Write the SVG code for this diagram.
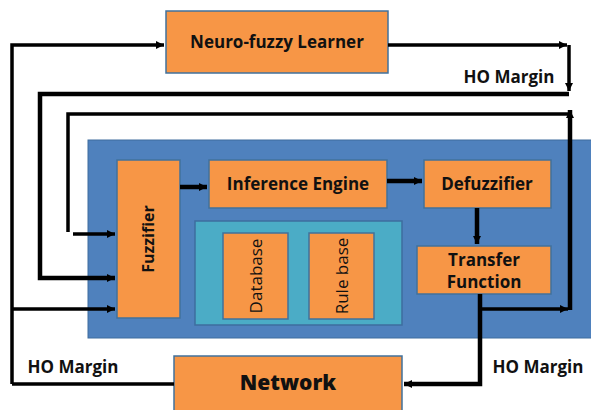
<svg xmlns="http://www.w3.org/2000/svg" width="591" height="410" viewBox="0 0 591 410">
<defs>
<style>
.box{fill:#F79646;stroke:#41719C;stroke-width:1.5}
.t{font-family:"Open Sans","Liberation Sans",sans-serif;font-weight:bold;font-size:17px;fill:#111;text-anchor:middle}
.tn{font-family:"Open Sans","Liberation Sans",sans-serif;font-weight:normal;font-size:17px;fill:#111;text-anchor:middle}
.c{fill:none;stroke:#000;stroke-width:3.5}
.ct{fill:none;stroke:#000;stroke-width:4.5}
</style>
<marker id="ah" markerUnits="userSpaceOnUse" markerWidth="10" markerHeight="10" refX="8" refY="5" orient="auto">
<path d="M0,1 L8,5 L0,9 Z" fill="#000"/>
</marker>
</defs>
<rect id="outer" x="88" y="140" width="510" height="198" fill="#4F81BD" stroke="#3E6D9E" stroke-width="1"/>
<g id="learner"><rect class="box" x="166" y="11" width="222" height="62"/><text class="t" x="277" y="48">Neuro-fuzzy  Learner</text></g>
<g id="fuzzifier"><rect class="box" x="117" y="160" width="63" height="158"/><text class="t" x="0" y="0" transform="translate(154,239) rotate(-90)" style="font-size:16px">Fuzzifier</text></g>
<g id="inference"><rect class="box" x="209" y="160" width="178" height="48"/><text class="t" x="298" y="190">Inference Engine</text></g>
<g id="defuzzifier"><rect class="box" x="424" y="160" width="127" height="48"/><text class="t" x="487" y="190">Defuzzifier</text></g>
<g id="kb"><rect x="195" y="221" width="207" height="104" fill="#4BACC6" stroke="#3E6D9E" stroke-width="1.5"/></g>
<g id="database"><rect class="box" x="223" y="233" width="65" height="86"/><text class="tn" transform="translate(262,276) rotate(-90)">Database</text></g>
<g id="rulebase"><rect class="box" x="309" y="233" width="65" height="86"/><text class="tn" transform="translate(348,276) rotate(-90)">Rule base</text></g>
<g id="transfer"><rect class="box" x="417" y="246" width="134" height="48"/><text class="t" x="484" y="266">Transfer</text><text class="t" x="484" y="288">Function</text></g>
<g id="network"><rect class="box" x="174" y="356" width="228" height="60"/><text class="t" x="288" y="390" style="font-size:21px;font-weight:800">Network</text></g>
<g id="labels">
<text class="t" x="509" y="83">HO Margin</text>
<text class="t" x="73" y="373">HO Margin</text>
<text class="t" x="538" y="373">HO Margin</text>
</g>
<g id="connectors">
<path class="c" d="M12,384 L12,45 L164,45" marker-end="url(#ah)"/>
<path class="c" d="M12,309 L115,309" marker-end="url(#ah)"/>
<path class="c" d="M12,384 L174,384"/>
<path class="c" d="M388,45 L567,45" marker-end="url(#ah)"/>
<path class="c" d="M569,45 L569,91" marker-end="url(#ah)"/>
<path class="ct" d="M569,94 L40,94 L40,278 L115,278" marker-end="url(#ah)"/>
<path class="ct" d="M570,310 L570,110" marker-end="url(#ah)"/>
<path class="c" d="M570,114 L68,114 L68,232"/>
<path class="c" d="M73,234 L115,234" marker-end="url(#ah)"/>
<path class="ct" d="M180,187 L207,187" marker-end="url(#ah)"/>
<path class="ct" d="M387,181 L422,181" marker-end="url(#ah)"/>
<path class="ct" d="M477,208 L477,244" marker-end="url(#ah)"/>
<path class="ct" d="M480,294 L480,384 L404,384" marker-end="url(#ah)"/>
<path class="c" d="M480,309 L568,309" marker-end="url(#ah)"/>
</g>
</svg>
